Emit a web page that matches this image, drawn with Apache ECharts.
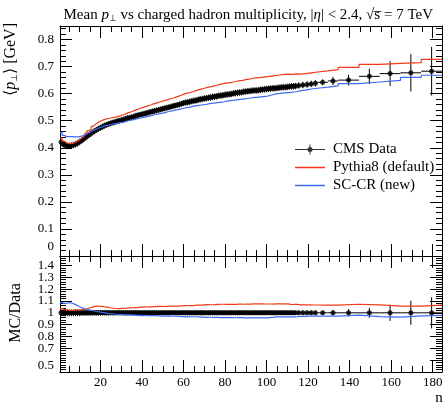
<!DOCTYPE html>
<html><head><meta charset="utf-8">
<script src="https://cdn.jsdelivr.net/npm/echarts@6/dist/echarts.min.js"></script>
<style>html,body{margin:0;padding:0;background:#fff}#c{width:447px;height:408px}</style>
</head><body><div id="c"></div>
<script>
// bin edges of the charged multiplicity n
const binEdges = [
 0.5,1.5,2.5,3.5,4.5,5.5,6.5,7.5,8.5,9.5,10.5,11.5,12.5,13.5,14.5,15.5,16.5,17.5,18.5,19.5,
 20.5,21.5,22.5,23.5,24.5,25.5,26.5,27.5,28.5,29.5,30.5,31.5,32.5,33.5,34.5,35.5,36.5,37.5,38.5,39.5,
 40.5,41.5,42.5,43.5,44.5,45.5,46.5,47.5,48.5,49.5,50.5,51.5,52.5,53.5,54.5,55.5,56.5,57.5,58.5,59.5,
 60.5,61.5,62.5,63.5,64.5,65.5,66.5,67.5,68.5,69.5,70.5,71.5,72.5,73.5,74.5,75.5,76.5,77.5,78.5,79.5,
 80.5,81.5,82.5,83.5,84.5,85.5,86.5,87.5,88.5,89.5,90.5,91.5,92.5,93.5,94.5,95.5,96.5,97.5,98.5,99.5,
 100.5,101.5,102.5,103.5,104.5,105.5,106.5,107.5,108.5,109.5,110.5,111.5,112.5,113.5,114.5,
 116.5,118.5,120.5,122.5,124.5,129.5,134.5,144.5,154.5,164.5,174.5,184.5
];
// CMS data: mean pT [GeV]
const cmsMeanPt = [
 .421,.413,.409,.407,.407,.408,.410,.413,.417,.422,
 .427,.433,.439,.445,.450,.456,.461,.466,.470,.474,
 .478,.482,.485,.488,.491,.493,.495,.498,.500,.502,
 .504,.507,.509,.511,.513,.515,.518,.520,.522,.524,
 .526,.528,.530,.532,.534,.536,.538,.540,.542,.544,
 .546,.548,.550,.552,.554,.556,.558,.560,.563,.565,
 .567,.568,.570,.572,.574,.575,.577,.579,.580,.582,
 .583,.585,.586,.588,.589,.590,.592,.593,.594,.596,
 .597,.598,.599,.601,.602,.603,.604,.605,.607,.608,
 .609,.610,.611,.612,.612,.613,.614,.615,.616,.617,
 .618,.619,.620,.620,.621,.622,.623,.624,.624,.625,
 .626,.627,.627,.628,
 .630,.632,.634,.636,.638,.642,.647,.650,.664,.674,.677,.683
];
const cmsErr = [
 .012,.012,.012,.012,.012,.012,.012,.012,.012,.012,
 .011,.011,.011,.011,.011,.011,.011,.011,.011,.011,
 .011,.011,.011,.011,.011,.011,.011,.011,.011,.011,
 .011,.011,.011,.011,.011,.011,.011,.011,.011,.011,
 .011,.011,.011,.011,.011,.011,.011,.011,.011,.011,
 .011,.011,.011,.011,.011,.011,.011,.011,.011,.011,
 .012,.012,.012,.012,.012,.012,.012,.012,.012,.012,
 .012,.012,.012,.012,.012,.012,.012,.012,.012,.012,
 .012,.012,.012,.012,.012,.012,.012,.012,.012,.012,
 .012,.012,.012,.012,.012,.012,.012,.012,.012,.012,
 .012,.012,.012,.012,.012,.012,.012,.012,.012,.012,
 .012,.012,.012,.012,
 .012,.012,.012,.012,.012,.011,.015,.020,.028,.046,.069,.090
];
// Pythia8 (default)
const pythia8 = [
 .436,.425,.419,.416,.415,.416,.419,.423,.427,.433,
 .439,.446,.454,.463,.470,.479,.486,.492,.496,.500,
 .503,.506,.508,.509,.511,.512,.513,.516,.518,.521,
 .523,.527,.530,.532,.535,.538,.541,.544,.547,.549,
 .552,.554,.557,.559,.562,.564,.567,.569,.572,.573,
 .576,.578,.581,.583,.585,.588,.590,.593,.596,.599,
 .602,.603,.605,.607,.610,.612,.615,.617,.619,.621,
 .623,.625,.626,.628,.630,.632,.634,.636,.637,.639,
 .640,.641,.642,.644,.645,.647,.648,.649,.651,.653,
 .654,.655,.657,.658,.658,.659,.660,.661,.662,.663,
 .664,.665,.666,.667,.668,.669,.670,.671,.671,.672,
 .671,.671,.672,.673,
 .672,.674,.676,.678,.680,.684,.689,.697,.708,.712,.715,.727
];
// SC-CR (new)
const scCR = [
 .457,.446,.442,.441,.441,.441,.440,.440,.440,.442,
 .444,.448,.451,.456,.459,.464,.467,.471,.474,.476,
 .479,.482,.483,.485,.487,.488,.489,.491,.493,.494,
 .495,.498,.500,.502,.503,.505,.507,.509,.510,.512,
 .513,.515,.517,.519,.521,.523,.524,.526,.527,.529,
 .531,.533,.535,.536,.538,.540,.541,.543,.545,.547,
 .548,.549,.551,.553,.555,.556,.557,.558,.559,.560,
 .561,.563,.564,.565,.566,.567,.568,.569,.570,.572,
 .573,.574,.575,.576,.577,.578,.579,.580,.581,.582,
 .583,.584,.585,.586,.586,.587,.588,.589,.590,.591,
 .593,.595,.597,.599,.600,.601,.602,.603,.603,.604,
 .605,.606,.606,.607,
 .611,.613,.616,.618,.620,.624,.629,.637,.643,.649,.660,.668
];
const xTickStep = 20;
const legendNames = ['CMS Data', 'Pythia8 (default)', 'SC-CR (new)'];

const RED = '#f03a17', BLUE = '#3d6af2';
const FONT = 'Liberation Serif';

function stepData(vals){
  const out = [];
  vals.forEach((v,i)=>{ out.push([binEdges[i], v]); out.push([binEdges[i+1], v]); });
  return out;
}
const centers = cmsMeanPt.map((_,i)=>(binEdges[i]+binEdges[i+1])/2);
const mainPts = cmsMeanPt.map((v,i)=>[centers[i], v, binEdges[i], binEdges[i+1], cmsErr[i]]);
const ratioPts = cmsMeanPt.map((v,i)=>[centers[i], 1, binEdges[i], binEdges[i+1], cmsErr[i]/v]);
const ratioP = pythia8.map((v,i)=>v/cmsMeanPt[i]);
const ratioS = scCR.map((v,i)=>v/cmsMeanPt[i]);

function errRender(params, api){
  const x = api.value(0), y = api.value(1), lo = api.value(2), hi = api.value(3), e = api.value(4);
  const pL = api.coord([lo, y]), pR = api.coord([hi, y]);
  const pB = api.coord([x, y - e]), pT = api.coord([x, y + e]);
  return {type:'group', children:[
    {type:'line', shape:{x1:pL[0], y1:pL[1], x2:pR[0], y2:pR[1]}, style:{stroke:'#000', lineWidth:1}},
    {type:'line', shape:{x1:pB[0], y1:pB[1], x2:pT[0], y2:pT[1]}, style:{stroke:'#000', lineWidth:1}}
  ]};
}

const blackLine = {color:'#000', width:1};
function xAx(grid, pos, major, labels){
  return {type:'value', gridIndex:grid, position:pos, min:0.5, max:184.5, splitNumber: major ? 9 : 37,
    axisLine:{show:major, onZero:false, lineStyle:blackLine},
    axisTick:{show:true, inside:true, length: major ? 12 : 6, lineStyle:blackLine},
    splitLine:{show:false},
    axisLabel: labels ? {show:true, margin:4, fontFamily:FONT, fontSize:13, color:'#000',
      showMinLabel:true, showMaxLabel:true, hideOverlap:false,
      formatter:v => (v > 0 && Math.abs(v % xTickStep) < 1e-6) ? String(v) : ''} : {show:false}};
}
function yAx(grid, pos, min, max, step, major, labelOpt){
  return {type:'value', gridIndex:grid, position:pos, min:min, max:max, interval:step,
    axisLine:{show:major, onZero:false, lineStyle:blackLine},
    axisTick:{show:true, inside:true, length: major ? 12 : 6, lineStyle:blackLine},
    splitLine:{show:false},
    axisLabel: labelOpt || {show:false}};
}
const mainYLabel = {show:true, margin:6, fontFamily:FONT, fontSize:13, color:'#000',
  showMinLabel:true, showMaxLabel:true, hideOverlap:false,
  formatter:v => { if (Math.abs(v*10 - Math.round(v*10)) > 1e-6) return ''; return Math.abs(v) < 1e-9 ? '{z|0}' : v.toFixed(1); },
  rich:{z:{fontFamily:FONT, fontSize:13, color:'#000', padding:[0,0,19,0]}}};
const ratioYLabel = {show:true, margin:6, fontFamily:FONT, fontSize:13, color:'#000',
  showMinLabel:true, showMaxLabel:true, hideOverlap:false,
  formatter:v => { if (Math.abs(v*10 - Math.round(v*10)) > 1e-6) return ''; if (Math.abs(v-0.5)<1e-6) return '{z|0.5}'; return Math.abs(v-1)<1e-6 ? '1' : v.toFixed(1); },
  rich:{z:{fontFamily:FONT, fontSize:13, color:'#000', padding:[0,0,13,0]}}};

const lineIcon = 'path://M0,0L30,0L30,0.01L0,0.01Z M0,4.2L30,4.2L30,5.8L0,5.8Z M0,9.99L30,9.99L30,10L0,10Z';
const dataIcon = 'path://M0,4.5L30,4.5L30,5.5L0,5.5Z M14.5,0L15.5,0L15.5,10L14.5,10Z M17.5,5A2.5,2.5,0,1,1,12.5,5A2.5,2.5,0,1,1,17.5,5Z';

const chart = echarts.init(document.getElementById('c'), null, {renderer:'canvas'});
chart.setOption({
  animation:false,
  backgroundColor:'#fff',
  title:{
    text:'Mean {i|p}{sub|⊥} vs charged hadron multiplicity, |{i|η}| < 2.4, √s\u0305 = 7 TeV',
    right:9, top:3,
    textStyle:{fontFamily:FONT, fontSize:15, fontWeight:'normal', color:'#000',
      rich:{i:{fontFamily:FONT, fontSize:15, fontStyle:'italic', color:'#000'},
            sub:{fontFamily:'DejaVu Sans', fontSize:9, color:'#000', verticalAlign:'bottom', lineHeight:13}}}
  },
  legend:{
    orient:'vertical', left:290, top:137, itemWidth:30, itemHeight:10, itemGap:3,
    itemStyle:{borderWidth:0},
    textStyle:{fontFamily:FONT, fontSize:15, color:'#000', padding:[0,0,0,3]},
    data:[
      {name:legendNames[0], icon:dataIcon, itemStyle:{color:'#000'}},
      {name:legendNames[1], icon:lineIcon, itemStyle:{color:RED}},
      {name:legendNames[2], icon:lineIcon, itemStyle:{color:BLUE}}
    ]
  },
  grid:[
    {left:60, right:5, top:26, height:230},
    {left:60, right:5, top:256, height:116}
  ],
  xAxis:[
    xAx(0,'bottom',true,false),
    xAx(0,'top',true,false),
    xAx(1,'bottom',true,true),
    xAx(1,'top',true,false),
    xAx(0,'bottom',false,false),
    xAx(0,'top',false,false),
    xAx(1,'bottom',false,false),
    xAx(1,'top',false,false)
  ],
  yAxis:[
    yAx(0,'left',0,0.85,0.1,true,mainYLabel),
    yAx(0,'right',0,0.85,0.1,true,null),
    yAx(1,'left',0.5,1.48,0.1,true,ratioYLabel),
    yAx(1,'right',0.5,1.48,0.1,true,null),
    yAx(0,'left',0,0.85,0.02,false,null),
    yAx(0,'right',0,0.85,0.02,false,null),
    yAx(1,'left',0.5,1.48,0.02,false,null),
    yAx(1,'right',0.5,1.48,0.02,false,null)
  ],
  graphic:[
    {type:'text', x:11, y:23, rotation:Math.PI/2,
      style:{text:'⟨{i|p}{sub|⊥}⟩ [GeV]', align:'right', verticalAlign:'middle', fontFamily:FONT, fontSize:16, fill:'#000',
        rich:{i:{fontFamily:FONT, fontSize:16, fontStyle:'italic', fill:'#000'},
              sub:{fontFamily:'DejaVu Sans', fontSize:9, fill:'#000', verticalAlign:'bottom', lineHeight:14}}}},
    {type:'text', x:16, y:313, rotation:Math.PI/2,
      style:{text:'MC/Data', align:'center', verticalAlign:'middle', fontFamily:FONT, fontSize:16, fill:'#000'}},
    {type:'text', x:439, y:398,
      style:{text:'n', align:'center', verticalAlign:'middle', fontFamily:FONT, fontSize:15, fill:'#000'}}
  ],
  series:[
    {name:legendNames[1], type:'line', xAxisIndex:0, yAxisIndex:0, data:stepData(pythia8), symbol:'none',
      lineStyle:{color:RED, width:1.2}, itemStyle:{color:RED}, clip:true},
    {name:legendNames[2], type:'line', xAxisIndex:0, yAxisIndex:0, data:stepData(scCR), symbol:'none',
      lineStyle:{color:BLUE, width:1.2}, itemStyle:{color:BLUE}, clip:true},
    {name:legendNames[0]+' err', type:'custom', xAxisIndex:0, yAxisIndex:0, data:mainPts, renderItem:errRender,
      encode:{x:0, y:1}, clip:true},
    {name:legendNames[0], type:'scatter', xAxisIndex:0, yAxisIndex:0, data:mainPts.map(p=>[p[0],p[1]]),
      symbol:'circle', symbolSize:5, itemStyle:{color:'#000'}},
    {name:legendNames[1], type:'line', xAxisIndex:2, yAxisIndex:2, data:stepData(ratioP), symbol:'none',
      lineStyle:{color:RED, width:1.2}, itemStyle:{color:RED}, clip:true},
    {name:legendNames[2], type:'line', xAxisIndex:2, yAxisIndex:2, data:stepData(ratioS), symbol:'none',
      lineStyle:{color:BLUE, width:1.2}, itemStyle:{color:BLUE}, clip:true},
    {name:legendNames[0]+' rerr', type:'custom', xAxisIndex:2, yAxisIndex:2, data:ratioPts, renderItem:errRender,
      encode:{x:0, y:1}, clip:true},
    {name:legendNames[0], type:'scatter', xAxisIndex:2, yAxisIndex:2, data:ratioPts.map(p=>[p[0],p[1]]),
      symbol:'circle', symbolSize:5, itemStyle:{color:'#000'}}
  ]
});
</script></body></html>
